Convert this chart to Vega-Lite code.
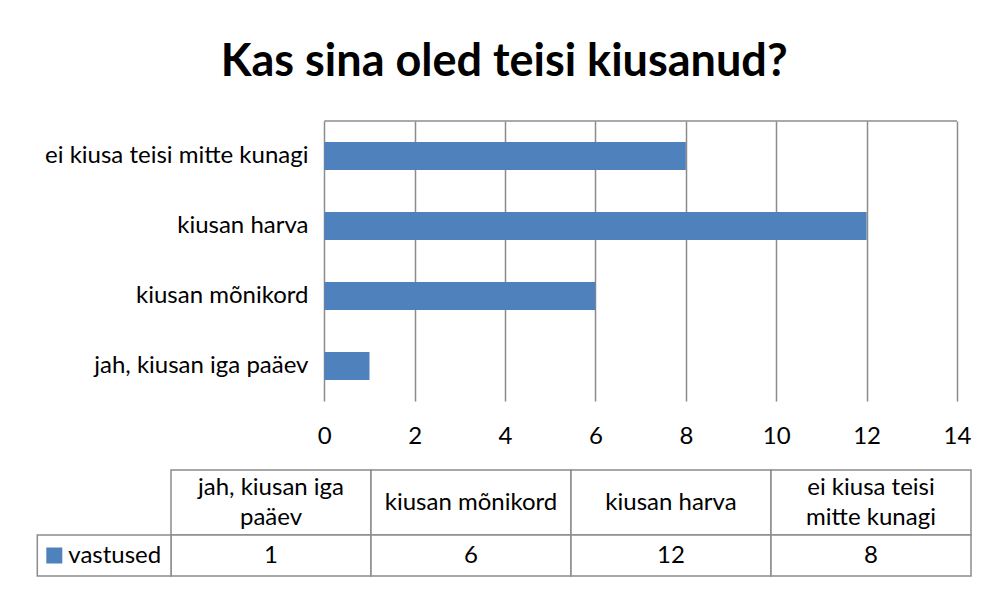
{
  "$schema": "https://vega.github.io/schema/vega-lite/v6.json",
  "padding": {"left": 36, "top": 40, "right": 10, "bottom": 5},
  "autosize": {"type": "pad"},
  "background": "white",
  "title": {"text": "Kas sina oled teisi kiusanud?", "fontSize": 45, "font": "Lato", "fontWeight": "bold", "color": "#000000", "anchor": "middle", "offset": 35},
  "datasets": {
    "d": [
      {"cat": "jah, kiusan iga paäev", "header": ["jah, kiusan iga", "paäev"], "value": 1},
      {"cat": "kiusan mõnikord", "header": ["kiusan mõnikord"], "value": 6},
      {"cat": "kiusan harva", "header": ["kiusan harva"], "value": 12},
      {"cat": "ei kiusa teisi mitte kunagi", "header": ["ei kiusa teisi", "mitte kunagi"], "value": 8}
    ]
  },
  "spacing": 0,
  "config": {"view": {"stroke": null}, "font": "Lato", "axis": {"labelFont": "Lato", "titleFont": "Lato"}},
  "vconcat": [
    {
      "width": 786,
      "height": 280,
      "data": {"name": "d"},
      "layer": [
        {
          "mark": {"type": "bar", "color": "#4f81bd"},
          "encoding": {
            "y": {
              "field": "cat", "type": "nominal",
              "sort": ["ei kiusa teisi mitte kunagi", "kiusan harva", "kiusan mõnikord", "jah, kiusan iga paäev"],
              "scale": {"paddingInner": 0.6, "paddingOuter": 0.3},
              "axis": {"title": null, "ticks": false, "tickSize": 0, "domain": false, "labelPadding": -137, "labelFontSize": 24, "labelColor": "#000000", "labelLimit": 0}
            },
            "x": {
              "field": "value", "type": "quantitative",
              "scale": {"domain": [-3.392, 14], "nice": false, "zero": false},
              "axis": {"values": [0, 2, 4, 6, 8, 10, 12, 14], "title": " ", "titlePadding": 10, "titleFontSize": 12, "ticks": false, "domain": false, "grid": true, "gridColor": "#8c8c8c", "gridWidth": 1.5, "gridOpacity": 1, "labelFontSize": 24, "labelColor": "#000000", "labelPadding": 23, "labelFlush": false}
            }
          }
        },
        {
          "data": {"values": [{}]},
          "mark": {"type": "rule", "color": "#8c8c8c", "strokeWidth": 1.5},
          "encoding": {"x": {"datum": 0}, "x2": {"datum": 14}, "y": {"value": {"expr": "height"}}}
        }
      ]
    },
    {
      "spacing": 0,
      "bounds": "flush",
      "vconcat": [
        {
          "width": 800,
          "height": 65,
          "data": {"name": "d"},
          "encoding": {
            "x": {"field": "cat", "type": "nominal", "sort": ["jah, kiusan iga paäev", "kiusan mõnikord", "kiusan harva", "ei kiusa teisi mitte kunagi"], "scale": {"paddingInner": 0, "paddingOuter": 0}, "axis": null}
          },
          "layer": [
            {"mark": {"type": "rect", "fill": "white", "stroke": "#8c8c8c", "strokeWidth": 1.5}},
            {
              "transform": [{"filter": "length(datum.header) == 1"}],
              "mark": {"type": "text", "fontSize": 24, "baseline": "middle", "color": "#000000"},
              "encoding": {"text": {"field": "header", "type": "nominal"}}
            },
            {
              "transform": [{"filter": "length(datum.header) > 1"}],
              "mark": {"type": "text", "fontSize": 24, "lineHeight": 30, "baseline": "middle", "dy": -15, "color": "#000000"},
              "encoding": {"text": {"field": "header", "type": "nominal"}}
            }
          ]
        },
        {
          "width": 800,
          "height": 41,
          "data": {"name": "d"},
          "encoding": {
            "x": {"field": "cat", "type": "nominal", "sort": ["jah, kiusan iga paäev", "kiusan mõnikord", "kiusan harva", "ei kiusa teisi mitte kunagi"], "scale": {"paddingInner": 0, "paddingOuter": 0}, "axis": null}
          },
          "layer": [
            {"mark": {"type": "rect", "fill": "white", "stroke": "#8c8c8c", "strokeWidth": 1.5}},
            {"mark": {"type": "text", "fontSize": 24, "baseline": "middle", "color": "#000000"}, "encoding": {"text": {"field": "value", "type": "quantitative"}}},
            {
              "data": {"values": [{}]},
              "mark": {"type": "rect", "fill": "white", "stroke": "#8c8c8c", "strokeWidth": 1.5, "xOffset": -133.7},
              "encoding": {"x": {"datum": "jah, kiusan iga paäev", "bandPosition": 0}, "x2": {"datum": "jah, kiusan iga paäev", "bandPosition": 0}}
            },
            {
              "data": {"values": [{}]},
              "mark": {"type": "square", "size": 256, "color": "#4f81bd", "filled": true, "opacity": 1, "xOffset": -116.7},
              "encoding": {"x": {"datum": "jah, kiusan iga paäev", "bandPosition": 0}}
            },
            {
              "data": {"values": [{}]},
              "mark": {"type": "text", "align": "left", "baseline": "middle", "fontSize": 24, "color": "#000000", "dx": -102.7},
              "encoding": {"x": {"datum": "jah, kiusan iga paäev", "bandPosition": 0}, "text": {"value": "vastused"}}
            }
          ]
        }
      ]
    }
  ]
}
